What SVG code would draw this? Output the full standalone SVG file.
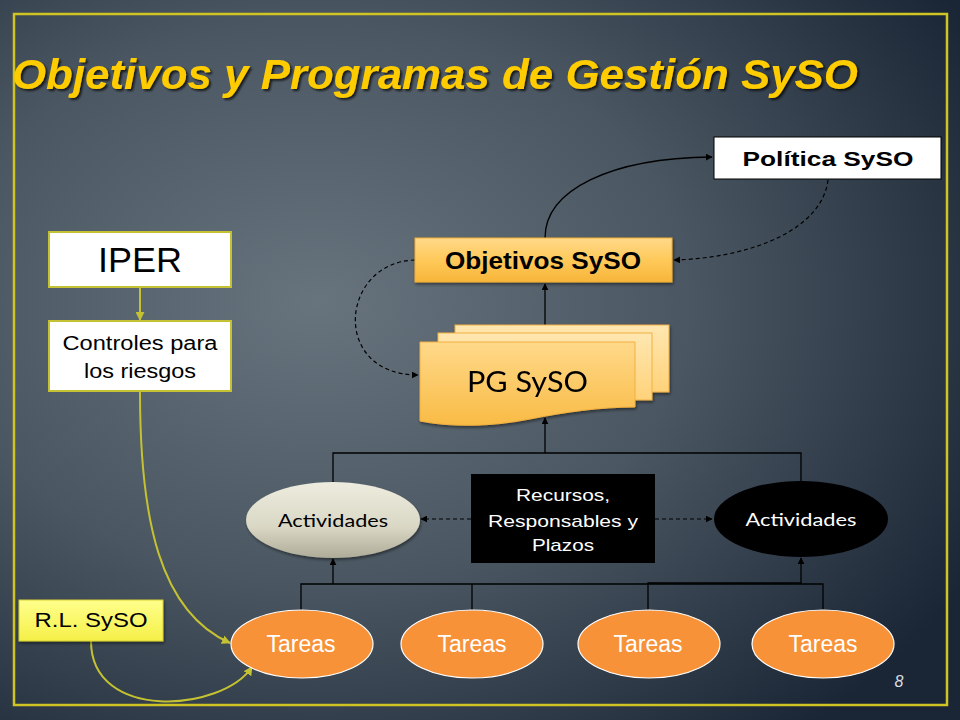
<svg xmlns="http://www.w3.org/2000/svg" width="960" height="720" viewBox="0 0 960 720">
<defs>
  <radialGradient id="bg" cx="0.33" cy="0.42" r="0.78">
    <stop offset="0" stop-color="#67737D"/>
    <stop offset="0.5" stop-color="#4A5661"/>
    <stop offset="1" stop-color="#1A2635"/>
  </radialGradient>
  <linearGradient id="orangeBox" x1="0" y1="0" x2="0" y2="1">
    <stop offset="0" stop-color="#FFD98A"/>
    <stop offset="0.5" stop-color="#FFC95A"/>
    <stop offset="1" stop-color="#F7B53A"/>
  </linearGradient>
  <linearGradient id="pageBack" x1="0" y1="0" x2="0" y2="1">
    <stop offset="0" stop-color="#FFE7B0"/>
    <stop offset="1" stop-color="#FFD27A"/>
  </linearGradient>
  <linearGradient id="pageFront" x1="0" y1="0" x2="0" y2="1">
    <stop offset="0" stop-color="#FFD98A"/>
    <stop offset="1" stop-color="#F9BB45"/>
  </linearGradient>
  <linearGradient id="greyEll" x1="0" y1="0" x2="0" y2="1">
    <stop offset="0" stop-color="#EDECDF"/>
    <stop offset="0.6" stop-color="#D9D7C4"/>
    <stop offset="1" stop-color="#AEAC98"/>
  </linearGradient>
  <linearGradient id="rlFill" x1="0" y1="0" x2="0" y2="1">
    <stop offset="0" stop-color="#FFFF8C"/>
    <stop offset="1" stop-color="#F5F048"/>
  </linearGradient>
  <filter id="shadow" x="-20%" y="-20%" width="140%" height="150%">
    <feDropShadow dx="1" dy="2" stdDeviation="1.5" flood-color="#000" flood-opacity="0.45"/>
  </filter>
  <filter id="tshadow" x="-5%" y="-20%" width="110%" height="150%">
    <feDropShadow dx="2" dy="2" stdDeviation="1" flood-color="#000" flood-opacity="0.7"/>
  </filter>
  <marker id="ab" viewBox="0 0 10 10" refX="9" refY="5" markerWidth="7" markerHeight="7" markerUnits="userSpaceOnUse" orient="auto">
    <path d="M0,0 L10,5 L0,10 Z" fill="#000"/>
  </marker>
  <marker id="ay" viewBox="0 0 10 10" refX="9" refY="5" markerWidth="9" markerHeight="9" markerUnits="userSpaceOnUse" orient="auto">
    <path d="M0,0 L10,5 L0,10 Z" fill="#C4C232"/>
  </marker>
  <style>
    .t { font-family: "Liberation Sans", Arial, sans-serif; }
    .g { font-family: Lato, "Open Sans", sans-serif; }
    .solid { fill: none; stroke: #000; stroke-width: 1.3; }
    .dash { fill: none; stroke: #000; stroke-width: 1.2; stroke-dasharray: 4 3; }
    .yl { fill: none; stroke: #C4C232; stroke-width: 2; }
    .tarea { fill: #F79238; stroke: #FFFFFF; stroke-width: 1.2; }
    .ytxt { fill: #FFFFFF; font-size: 23px; }
  </style>
</defs>

<rect x="0" y="0" width="960" height="720" fill="url(#bg)"/>
<rect x="14" y="14" width="933" height="691" fill="none" stroke="#CFC424" stroke-width="2.5"/>

<text class="t" x="12" y="89" font-size="42" font-weight="bold" font-style="italic" fill="#FFCC00" textLength="846" lengthAdjust="spacingAndGlyphs" filter="url(#tshadow)">Objetivos y Programas de Gestión SySO</text>

<g id="connectors">
  <path class="solid" d="M545,238 C545,190 610,158 712,157" marker-end="url(#ab)"/>
  <path class="dash" d="M828,180 C822,230 750,258 674,260" marker-end="url(#ab)"/>
  <path class="dash" d="M415,260 C340,262 330,375 418,375" marker-end="url(#ab)"/>
  <path class="solid" d="M545,325 V284" marker-end="url(#ab)"/>
  <path class="solid" d="M545,453 V418" marker-end="url(#ab)"/>
  <path class="solid" d="M333,482 V453 H801 V481"/>
  <path class="dash" d="M471,519 H421" marker-end="url(#ab)"/>
  <path class="dash" d="M655,519 H712" marker-end="url(#ab)"/>
  <path class="solid" d="M301,610 V584 H823 V610"/>
  <path class="solid" d="M472,610 V584"/>
  <path class="solid" d="M648,610 V583 H801"/>
  <path class="solid" d="M333,584 V559" marker-end="url(#ab)"/>
  <path class="solid" d="M801,584 V558" marker-end="url(#ab)"/>
  <path class="yl" d="M140,287 V320" marker-end="url(#ay)"/>
  <path class="yl" d="M140,392 C140,520 160,612 230,643" marker-end="url(#ay)"/>
  <path class="yl" d="M91,641 C91,722 222,712 252,667" marker-end="url(#ay)"/>
</g>

<g id="politica">
  <rect x="714" y="137" width="227" height="42" fill="#FFFFFF" stroke="#000" stroke-width="1"/>
  <text class="t" x="828" y="166" font-size="21" font-weight="bold" text-anchor="middle" textLength="171" lengthAdjust="spacingAndGlyphs" fill="#000">Política SySO</text>
</g>

<g id="objetivos">
  <rect x="415" y="238" width="257" height="44" fill="url(#orangeBox)" stroke="#F2AE35" stroke-width="1" filter="url(#shadow)"/>
  <text class="t" x="543" y="269" font-size="23" font-weight="bold" text-anchor="middle" textLength="196" lengthAdjust="spacingAndGlyphs" fill="#000">Objetivos SySO</text>
</g>

<g id="pg" filter="url(#shadow)">
  <rect x="455" y="325" width="214" height="67" fill="url(#pageBack)" stroke="#F2B040" stroke-width="1"/>
  <rect x="438" y="333" width="214" height="67" fill="url(#pageBack)" stroke="#F2B040" stroke-width="1"/>
  <path d="M420,342 H635 V407 C600,407 565,412 530,419 C490,427 450,427 420,421 Z" fill="url(#pageFront)" stroke="#F2B040" stroke-width="1"/>
  <text class="g" x="467" y="392" font-size="28" textLength="121" lengthAdjust="spacingAndGlyphs" fill="#000">PG SySO</text>
</g>

<g id="actividades-izq">
  <ellipse cx="333" cy="520" rx="87" ry="38" fill="url(#greyEll)" filter="url(#shadow)"/>
  <text class="g" x="333" y="527" font-size="18" text-anchor="middle" textLength="110" lengthAdjust="spacingAndGlyphs" fill="#000">Actividades</text>
</g>

<g id="recursos">
  <rect x="471" y="474" width="184" height="89" fill="#000"/>
  <text class="t" x="563" y="501" font-size="17" text-anchor="middle" textLength="94" lengthAdjust="spacingAndGlyphs" fill="#FFFFFF">Recursos,</text>
  <text class="t" x="563" y="527" font-size="17" text-anchor="middle" textLength="150" lengthAdjust="spacingAndGlyphs" fill="#FFFFFF">Responsables y</text>
  <text class="t" x="563" y="551" font-size="17" text-anchor="middle" textLength="62" lengthAdjust="spacingAndGlyphs" fill="#FFFFFF">Plazos</text>
</g>

<g id="actividades-der">
  <ellipse cx="801" cy="519" rx="87" ry="38" fill="#000"/>
  <text class="g" x="801" y="526" font-size="18" text-anchor="middle" textLength="111" lengthAdjust="spacingAndGlyphs" fill="#FFFFFF">Actividades</text>
</g>

<g id="tareas1">
  <ellipse class="tarea" cx="302" cy="644" rx="71" ry="34"/>
  <text class="t ytxt" x="301" y="652" text-anchor="middle" textLength="69" lengthAdjust="spacingAndGlyphs">Tareas</text>
</g>
<g id="tareas2">
  <ellipse class="tarea" cx="472" cy="644" rx="71" ry="34"/>
  <text class="t ytxt" x="472" y="652" text-anchor="middle" textLength="69" lengthAdjust="spacingAndGlyphs">Tareas</text>
</g>
<g id="tareas3">
  <ellipse class="tarea" cx="649" cy="644" rx="71" ry="34"/>
  <text class="t ytxt" x="648" y="652" text-anchor="middle" textLength="69" lengthAdjust="spacingAndGlyphs">Tareas</text>
</g>
<g id="tareas4">
  <ellipse class="tarea" cx="823" cy="644" rx="71" ry="34"/>
  <text class="t ytxt" x="823" y="652" text-anchor="middle" textLength="69" lengthAdjust="spacingAndGlyphs">Tareas</text>
</g>

<g id="iper">
  <rect x="49" y="232" width="182" height="55" fill="#FFFFFF" stroke="#C4C232" stroke-width="2"/>
  <text class="t" x="140" y="272" font-size="35" text-anchor="middle" textLength="84" lengthAdjust="spacingAndGlyphs" fill="#000">IPER</text>
</g>

<g id="controles">
  <rect x="49" y="321" width="182" height="70" fill="#FFFFFF" stroke="#C4C232" stroke-width="2"/>
  <text class="t" x="140" y="350" font-size="20" text-anchor="middle" textLength="155" lengthAdjust="spacingAndGlyphs" fill="#000">Controles para</text>
  <text class="t" x="140" y="378" font-size="20" text-anchor="middle" textLength="112" lengthAdjust="spacingAndGlyphs" fill="#000">los riesgos</text>
</g>

<g id="rl-syso">
  <rect x="19" y="600" width="144" height="41" fill="url(#rlFill)" stroke="#D6D030" stroke-width="1" filter="url(#shadow)"/>
  <text class="t" x="91" y="627" font-size="21" text-anchor="middle" textLength="113" lengthAdjust="spacingAndGlyphs" fill="#000">R.L. SySO</text>
</g>

<text class="t" x="899" y="687" font-size="16" font-style="italic" text-anchor="middle" fill="#D8DDE2">8</text>
</svg>
